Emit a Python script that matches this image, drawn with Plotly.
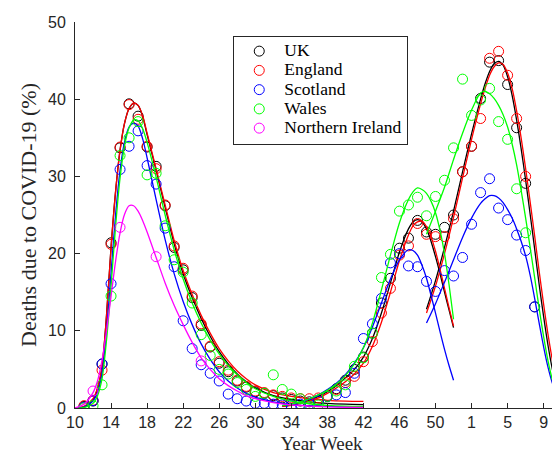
import plotly.graph_objects as go

# ---- x axis: position 0 = week 10 of 2020 (2020 has 53 weeks) ----
tick_pos = [0, 4, 8, 12, 16, 20, 24, 28, 32, 36, 40, 44, 48, 52]
tick_text = ['10', '14', '18', '22', '26', '30', '34', '38', '42', '46', '50', '1', '5', '9']

# observed weekly values, positions 1..51 (week 11 of 2020 .. week 8 of 2021)
obs_pos = list(range(1, 52))
uk = [0.2, 0.9, 5.7, 21.4, 33.7, 39.4, 37.8, 33.8, 31.3, 26.2,
      20.8, 17.9, 14.3, 10.7, 7.9, 5.8, 4.7, 3.5, 2.7, 2.1,
      1.9, 1.6, 1.3, 1.1, 0.9, 0.8, 1.0, 1.5, 2.5, 3.6,
      5.0, 6.6, 9.7, 13.6, 16.8, 20.7, 22.0, 24.3, 22.8, 22.5,
      23.4, 25.0, 30.6, 33.9, 40.1, 44.8, 45.0, 41.9, 36.3, 29.1, 13.1]
england = [0.3, 1.0, 4.9, 21.2, 33.8, 39.3, 37.4, 33.9, 31.0, 26.3,
           21.0, 18.1, 14.5, 10.9, 8.0, 6.0, 4.9, 3.6, 2.8, 2.2,
           2.0, 1.7, 1.5, 1.3, 1.2, 1.2, 1.3, 1.6, 2.4, 3.3,
           4.1, 6.0, 8.6, 12.3, 15.5, 19.8, 21.0, 23.9, 22.5, 22.2,
           22.2, 24.5, 30.6, 33.9, 37.5, 45.3, 46.2, 43.1, 37.5, 30.0, None]
scotland = [0.1, 0.95, 5.7, 16.1, 30.9, 33.9, 35.9, 31.4, 29.0, 23.3,
            18.3, 11.3, 7.7, 5.6, 4.5, 3.5, 1.8, 1.2, 0.9, 0.6,
            0.6, 0.5, 0.4, 0.3, 0.5, 0.5, 0.9, 1.5, 1.7, 2.0,
            4.5, 9.0, 10.9, 14.2, 18.8, 20.0, 18.4, 18.3, 16.4, 15.1,
            17.8, 17.1, 19.5, 23.8, 27.9, 29.7, 25.9, 24.4, 22.4, 20.4, 13.1]
wales = [0.0, 0.3, 3.0, 14.5, 32.7, 35.0, 37.1, 30.2, 30.4, 23.6,
         19.2, 17.6, 13.6, 9.5, 6.8, 5.0, 4.4, 3.3, 2.4, 1.5,
         1.9, 4.3, 2.4, 1.8, 1.2, 0.2, 0.4, 1.5, 2.2, 3.0,
         5.4, 6.5, 9.7, 16.9, 19.9, 25.5, 26.3, 27.3, 24.9, 27.4,
         29.5, 33.7, 42.6, 37.9, 39.9, 41.4, 37.1, 34.8, 28.4, 22.7, None]
ni_pos = [2, 5, 9, 14]
ni = [2.2, 23.4, 19.6, 6.1]

# ---- fitted curves ----
w1_pos = [0, 1, 2, 2.5, 3, 3.5, 4, 4.5, 5, 5.5, 6, 6.5, 7, 7.5, 8, 9, 10, 11, 12,
          13, 14, 15, 16, 17, 18, 19, 20, 22, 24, 26, 28, 30, 32]
uk_w1 = [0, 0.15, 1.1, 2.5, 5.3, 12.0, 20.8, 28.0, 33.4, 36.9, 38.8, 39.5, 39.2, 37.8, 35.4,
         30.8, 26.0, 21.3, 17.4, 14.3, 11.6, 9.3, 7.3, 5.7, 4.4, 3.4, 2.6, 1.6, 1.1, 0.8, 0.6, 0.5, 0.45]
en_w1 = [0, 0.2, 1.2, 2.6, 5.4, 12.0, 20.8, 28.0, 33.4, 36.9, 38.8, 39.5, 39.2, 37.9, 35.6,
         31.0, 26.3, 21.7, 17.8, 14.7, 12.0, 9.7, 7.7, 6.1, 4.8, 3.8, 3.0, 2.0, 1.5, 1.2, 1.0, 0.9, 0.85]
sc_w1 = [0, 0.1, 0.9, 2.0, 4.5, 10.0, 17.5, 25.0, 30.8, 34.5, 36.4, 36.9, 36.5, 34.9, 32.4,
         27.0, 21.8, 17.4, 13.8, 10.8, 8.3, 6.3, 4.7, 3.5, 2.6, 1.9, 1.4, 0.8, 0.45, 0.3, 0.2, 0.15, 0.12]
wa_w1 = [0, 0.05, 0.6, 1.6, 3.8, 8.8, 15.8, 23.5, 29.8, 34.0, 36.3, 37.3, 37.2, 36.2, 34.4,
         29.9, 25.0, 20.5, 16.7, 13.6, 11.0, 8.8, 7.0, 5.5, 4.3, 3.3, 2.5, 1.5, 0.9, 0.55, 0.35, 0.25, 0.2]
ni_w1 = [0, 0.5, 2.0, 3.5, 6.2, 10.0, 14.5, 19.0, 22.7, 25.1, 26.2, 26.2, 25.5, 24.3, 22.8,
         19.5, 16.2, 13.3, 10.8, 8.5, 6.5, 5.0, 3.8, 2.9, 2.2, 1.6, 1.2, 0.7, 0.4, 0.25, 0.15, 0.1, 0.08]

w2_pos = [23, 24, 25, 26, 27, 28, 29, 30, 31, 32, 33, 34, 35, 36, 37, 37.5, 38, 38.5,
          39, 39.5, 40, 40.5, 41, 41.5, 42]
uk_w2 = [0.2, 0.4, 0.7, 1.0, 1.5, 2.1, 2.9, 3.9, 5.0, 6.6, 9.0, 12.3, 16.2, 20.2, 23.2, 24.1, 24.4,
         24.1, 23.2, 21.6, 19.6, 17.4, 15.0, 12.7, 10.4]
en_w2 = [0.2, 0.35, 0.6, 0.9, 1.3, 1.9, 2.6, 3.4, 4.4, 5.8, 8.0, 11.1, 15.0, 19.1, 22.4, 23.6, 24.1,
         24.2, 23.5, 22.2, 20.3, 18.0, 15.5, 13.0, 10.6]
sc_w2 = [0.3, 0.5, 0.8, 1.2, 1.7, 2.4, 3.2, 4.3, 5.8, 7.8, 10.5, 13.6, 16.7, 19.2, 20.5, 20.4, 19.8,
         18.5, 16.8, 14.6, 12.3, 9.9, 7.6, 5.5, 3.6]
wa_w2 = [0.3, 0.5, 0.8, 1.2, 1.7, 2.3, 3.1, 4.2, 5.7, 7.8, 11.0, 15.3, 19.8, 24.0, 27.0, 28.0, 28.5,
         28.3, 27.8, 26.8, 25.3, 23.0, 20.0, 16.0, 11.5]

w3_pos = [39, 40, 41, 42, 43, 44, 45, 45.5, 46, 46.5, 47, 47.5, 48, 48.5, 49, 49.5, 50,
          50.5, 51, 51.5, 52, 52.5, 53, 53.5, 54, 54.5, 55]
uk_w3 = [12.8, 16.5, 20.8, 25.5, 30.6, 35.5, 40.0, 42.0, 43.6, 44.6, 44.9, 44.4, 42.9, 40.5, 37.3,
         33.6, 29.5, 25.1, 20.6, 16.0, 11.8, 8.0, 4.8, 2.4, 0.9, 0.25, 0.05]
en_w3 = [12.3, 15.8, 20.0, 24.7, 29.8, 34.8, 39.4, 41.4, 43.1, 44.2, 44.7, 44.5, 43.4, 41.4, 38.5,
         35.0, 31.0, 26.7, 22.3, 17.7, 13.4, 9.4, 6.0, 3.3, 1.5, 0.5, 0.1]
sc_w3 = [11.0, 13.5, 16.3, 19.2, 22.1, 24.6, 26.5, 27.1, 27.5, 27.5, 27.2, 26.6, 25.7, 24.6, 23.2,
         21.6, 19.7, 17.2, 14.2, 11.0, 7.9, 5.2, 3.1, 1.6, 0.7, 0.25, 0.05]
wa_w3 = [22.5, 25.5, 28.6, 32.2, 35.6, 38.6, 40.8, 41.0, 40.7, 40.1, 39.2, 38.0, 36.4, 34.2, 31.5,
         28.2, 24.6, 20.8, 16.9, 12.9, 9.2, 6.0, 3.5, 1.8, 0.8, 0.3, 0.05]

series = [
    ('UK', '#000000', obs_pos, uk, [(w1_pos, uk_w1), (w2_pos, uk_w2), (w3_pos, uk_w3)]),
    ('England', '#FF0000', obs_pos, england, [(w1_pos, en_w1), (w2_pos, en_w2), (w3_pos, en_w3)]),
    ('Scotland', '#0000FF', obs_pos, scotland, [(w1_pos, sc_w1), (w2_pos, sc_w2), (w3_pos, sc_w3)]),
    ('Wales', '#00FF00', obs_pos, wales, [(w1_pos, wa_w1), (w2_pos, wa_w2), (w3_pos, wa_w3)]),
    ('Northern Ireland', '#FF00FF', ni_pos, ni, [(w1_pos, ni_w1)]),
]

SERIF = 'Liberation Serif'
SANS = 'Liberation Sans'
fig = go.Figure()
for name, col, xs, ys, fits in series:
    fig.add_trace(go.Scatter(
        x=xs, y=ys, mode='markers',
        name='<span style="font-size:17.5px">' + name + '</span>',
        marker=dict(symbol='circle-open', size=10, color=col, line=dict(width=1, color=col))))
    for fx, fy in fits:
        fig.add_trace(go.Scatter(x=fx, y=fy, mode='lines', showlegend=False,
                                 line=dict(color=col, width=1.3, shape='spline', smoothing=0.8),
                                 hoverinfo='skip'))

axis_col = '#262626'
fig.update_layout(
    width=560, height=453,
    margin=dict(l=67, r=0, t=14, b=53),
    paper_bgcolor='white', plot_bgcolor='white',
    font=dict(family=SERIF, size=12.5, color='#000000'),
    showlegend=True,
    legend=dict(x=0.321, y=0.965, xanchor='left', yanchor='top',
                bgcolor='white', bordercolor=axis_col, borderwidth=1,
                font=dict(family=SERIF, size=12.5, color='#000000'),
                itemwidth=40, tracegroupgap=0),
    xaxis=dict(range=[0, 54.7], tickmode='array', tickvals=tick_pos, ticktext=tick_text,
               automargin=False,
               ticks='inside', ticklen=5, tickcolor=axis_col, showline=True, linecolor=axis_col,
               linewidth=1, showgrid=False, zeroline=False, mirror=False,
               tickfont=dict(family=SANS, size=16, color=axis_col),
               title=dict(text='Year Week', standoff=6,
                          font=dict(family=SERIF, size=19, color=axis_col))),
    yaxis=dict(range=[0, 50], tickvals=[0, 10, 20, 30, 40, 50], automargin=False,
               ticks='inside', ticklen=5, tickcolor=axis_col, showline=True, linecolor=axis_col,
               linewidth=1, showgrid=False, zeroline=False, mirror=False, ticklabelstandoff=5,
               tickfont=dict(family=SANS, size=16, color=axis_col),
               title=dict(text='Deaths due to COVID-19 (%)', standoff=5,
                          font=dict(family=SERIF, size=22, color=axis_col))),
)

fig.write_html('out.html')
